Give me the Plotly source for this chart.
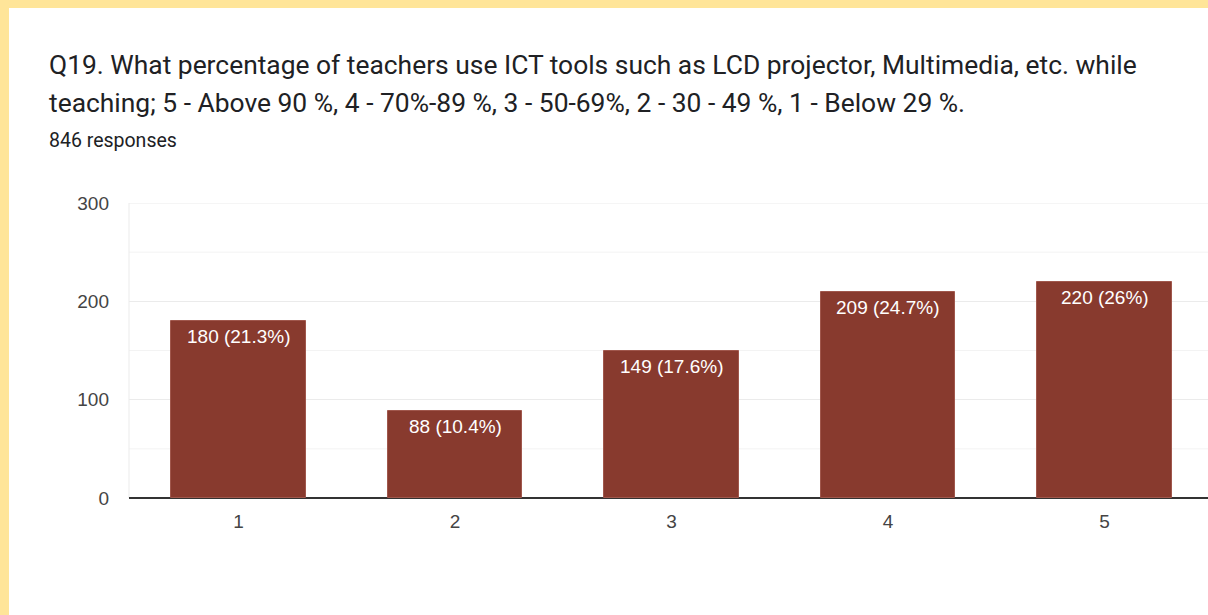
import plotly.graph_objects as go

categories = ["1", "2", "3", "4", "5"]
counts = [180, 88, 149, 209, 220]
percents = ["21.3%", "10.4%", "17.6%", "24.7%", "26%"]
title_lines = [
    "Q19. What percentage of teachers use ICT tools such as LCD projector, Multimedia, etc. while",
    "teaching; 5 - Above 90 %, 4 - 70%-89 %, 3 - 50-69%, 2 - 30 - 49 %, 1 - Below 29 %.",
]
subtitle = "846 responses"

W, H = 1208, 615
L, R = 129, 0
T, B = 203, 117
PW = W - L - R
PH = H - T - B

def px(x):
    return (x - L) / PW

def py(y):
    return (H - B - y) / PH

xs = [int(c) for c in categories]

fig = go.Figure()
fig.add_trace(go.Bar(
    x=xs, y=counts, width=0.62,
    marker=dict(color="#883a2e", line=dict(color="#a0574c", width=1)),
    hoverinfo="skip",
))

# grid: minor lines at 50, 150, 250 and top line at 300
for v in [50, 150, 250]:
    fig.add_shape(type="line", xref="paper", yref="y", x0=0, x1=1, y0=v, y1=v,
                  line=dict(color="#f3f3f3", width=1), layer="below")
fig.add_shape(type="line", xref="paper", yref="y", x0=0, x1=1, y0=300, y1=300,
              line=dict(color="#ebebeb", width=1), layer="below")
fig.add_shape(type="line", xref="paper", yref="y", x0=0, x1=0, y0=0, y1=300,
              line=dict(color="#ebebeb", width=1), layer="below")

for xv, c, p in zip(xs, counts, percents):
    fig.add_annotation(x=xv, y=c, xref="x", yref="y", text=f"{c} ({p})",
                       showarrow=False, yanchor="top", yshift=-3,
                       font=dict(family="Liberation Sans, Arial", size=19, color="white"))

fig.add_annotation(x=px(47), y=py(65), xref="paper", yref="paper", xanchor="left", yanchor="middle",
                   text=title_lines[0], showarrow=False,
                   font=dict(family="Roboto", size=26.4, color="#202124"))
fig.add_annotation(x=px(47), y=py(103), xref="paper", yref="paper", xanchor="left", yanchor="middle",
                   text=title_lines[1], showarrow=False,
                   font=dict(family="Roboto", size=26.4, color="#202124"))
fig.add_annotation(x=px(47), y=py(140), xref="paper", yref="paper", xanchor="left", yanchor="middle",
                   text=subtitle, showarrow=False,
                   font=dict(family="Roboto", size=19.5, color="#202124"))

# yellow frame
fig.add_shape(type="rect", xref="paper", yref="paper", x0=px(0), x1=px(9), y0=py(H), y1=py(0),
              fillcolor="#ffe599", line=dict(width=0), layer="above")
fig.add_shape(type="rect", xref="paper", yref="paper", x0=px(0), x1=px(W), y0=py(8), y1=py(0),
              fillcolor="#ffe599", line=dict(width=0), layer="above")

x0 = 0.494
fig.update_layout(
    width=W, height=H,
    margin=dict(l=L, r=R, t=T, b=B),
    paper_bgcolor="white", plot_bgcolor="white",
    showlegend=False,
    bargap=0,
    xaxis=dict(range=[x0, x0 + PW / 216.5], tickmode="array", tickvals=xs, ticktext=categories,
               showgrid=False, zeroline=False, showline=False, ticks="", ticklabelstandoff=10,
               tickfont=dict(family="Liberation Sans, Arial", size=19, color="#444444")),
    yaxis=dict(range=[0, 300], tickvals=[0, 100, 200, 300], showgrid=True, gridcolor="#ebebeb",
               gridwidth=1, zeroline=True, zerolinecolor="#333333", zerolinewidth=2,
               ticks="", ticklabelstandoff=19,
               tickfont=dict(family="Liberation Sans, Arial", size=19, color="#444444")),
)

fig.write_html(
    "out.html",
    config={"displayModeBar": False},
    post_script="document.body.style.margin='0';document.body.style.overflow='hidden';",
)
